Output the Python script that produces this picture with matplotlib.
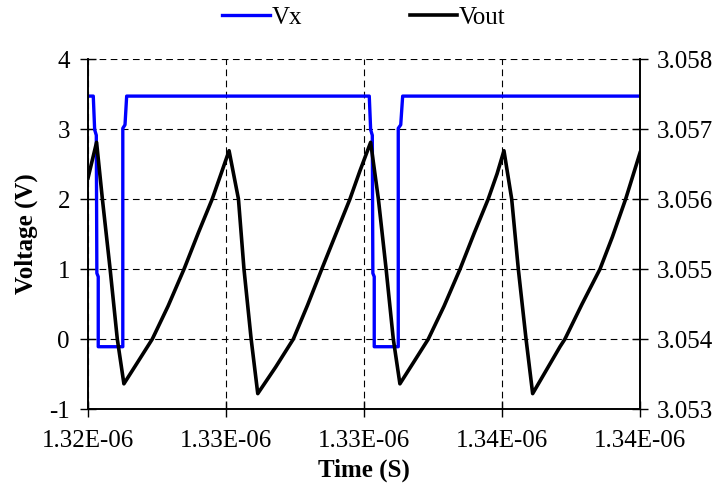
import matplotlib.pyplot as plt
from matplotlib.lines import Line2D

plt.rcParams['font.family'] = ['Liberation Serif', 'DejaVu Serif']

# time axis in ns after 1.32 us
t0 = 1.32e-6
vx_t = [0.0, 0.19, 0.24, 0.30, 0.32, 0.37, 0.37, 1.26, 1.26, 1.34, 1.40,
        10.19, 10.24, 10.30, 10.32, 10.37, 10.37, 11.24, 11.24, 11.33, 11.40, 20.0]
vx_v = [3.47, 3.47, 2.99, 2.91, 0.94, 0.89, -0.11, -0.11, 3.01, 3.06, 3.47,
        3.47, 2.99, 2.91, 0.94, 0.89, -0.11, -0.11, 3.01, 3.06, 3.47, 3.47]

vout_t = [0.0, 0.31, 0.52, 0.80, 1.06, 1.30,
          1.80, 2.33, 2.90, 3.48, 4.00, 4.50, 4.82, 5.11,
          5.45, 5.65, 5.91, 6.15,
          6.80, 7.44, 7.95, 8.47, 9.00, 9.49, 9.85, 10.24,
          10.52, 10.80, 11.06, 11.30,
          11.80, 12.33, 12.90, 13.48, 14.00, 14.50, 14.82, 15.07,
          15.35, 15.59, 15.87, 16.11,
          17.10, 17.28, 17.90, 18.55, 19.00, 19.48, 20.0]
vout_v = [3.05630, 3.05681, 3.05600, 3.05500, 3.05400, 3.05336,
          3.05367, 3.05400, 3.05447, 3.05500, 3.05552, 3.05600, 3.05636, 3.05669,
          3.05600, 3.05500, 3.05400, 3.05322,
          3.05360, 3.05400, 3.05448, 3.05500, 3.05552, 3.05600, 3.05640, 3.05681,
          3.05600, 3.05500, 3.05400, 3.05336,
          3.05367, 3.05400, 3.05447, 3.05500, 3.05552, 3.05600, 3.05636, 3.05669,
          3.05600, 3.05500, 3.05400, 3.05322,
          3.05389, 3.05400, 3.05450, 3.05500, 3.05546, 3.05600, 3.05666]

xtick_ns = [0, 5, 10, 15, 20]
xtick_labels = ['1.32E-06', '1.33E-06', '1.33E-06', '1.34E-06', '1.34E-06']
left_ticks = [-1, 0, 1, 2, 3, 4]
right_ticks = [3.053, 3.054, 3.055, 3.056, 3.057, 3.058]

fs = 18

fig = plt.figure(figsize=(7.18, 4.86), dpi=100)
ax = fig.add_axes([0.1226, 0.1584, 0.7688, 0.7202])
ax2 = ax.twinx()

ax.plot([t0 + t * 1e-9 for t in vx_t], vx_v, color='#0000ff', lw=2.4)
ax2.plot([t0 + t * 1e-9 for t in vout_t], vout_v, color='black', lw=2.6)

ax.set_xlim(t0, t0 + 20e-9)
ax.set_ylim(-1, 4)
ax2.set_ylim(3.053, 3.058)

ax.set_xticks([t0 + t * 1e-9 for t in xtick_ns])
ax.set_xticklabels(xtick_labels)
ax.set_yticks(left_ticks)
ax.set_yticklabels([str(v) for v in left_ticks])
ax2.set_yticks(right_ticks)
ax2.set_yticklabels([f'{v:.3f}' for v in right_ticks])

ax.grid(True, color='black', linestyle=(0, (6, 4)), lw=0.8)

for a in (ax, ax2):
    a.spines['top'].set_visible(False)
    for s in ('left', 'right', 'bottom'):
        a.spines[s].set_linewidth(1.2)
    a.tick_params(direction='inout', length=12, width=1, labelsize=fs, pad=6)
ax.tick_params(axis='x', pad=9)
ax.tick_params(axis='y', pad=7)

ax.set_ylabel('Voltage (V)', fontsize=fs, fontweight='bold', labelpad=8)
ax.set_xlabel('Time (S)', fontsize=fs, fontweight='bold', labelpad=5)

handles = [Line2D([], [], color='#0000ff', lw=2.4), Line2D([], [], color='black', lw=2.6)]
fig.legend(handles, ['Vx', 'Vout'], loc='center', bbox_to_anchor=(0.507, 0.963), ncol=2,
           frameon=False, fontsize=fs, handlelength=1.9, handletextpad=0.08, columnspacing=4.3)

fig.savefig('out.png', dpi=100)
